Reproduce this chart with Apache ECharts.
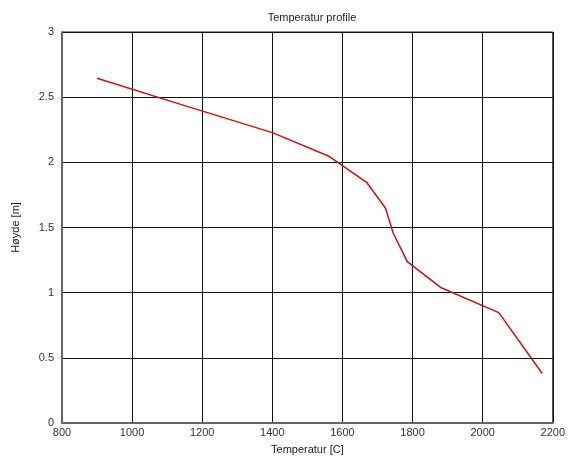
<!DOCTYPE html>
<html><head><meta charset="utf-8">
<script src="https://cdn.jsdelivr.net/npm/echarts@6/dist/echarts.min.js"></script>
<style>html,body{margin:0;padding:0;background:#fff}#c{width:568px;height:460px}</style>
</head><body><div id="c"></div>
<script>
var temperature = [900, 1150, 1400, 1560, 1669, 1723, 1745, 1785, 1880, 2046, 2170];
var height = [2.645, 2.435, 2.228, 2.049, 1.847, 1.648, 1.456, 1.238, 1.04, 0.847, 0.38];
var xTicks = [800, 1000, 1200, 1400, 1600, 1800, 2000, 2200];
var yTicks = [0, 0.5, 1, 1.5, 2, 2.5, 3];
var data = temperature.map(function(t, i){ return [t, height[i]]; });
var chart = echarts.init(document.getElementById('c'));
var font = 'Liberation Sans, Arial, sans-serif';
chart.setOption({
  animation: false,
  title: { text: 'Temperatur profile', left: 307, top: 7, textAlign: 'center',
    textStyle: { fontFamily: font, fontSize: 11, fontWeight: 'normal', color: '#222' } },
  grid: { left: 62, right: 13, top: 32, bottom: 37, show: true, borderColor: '#222', borderWidth: 1 },
  xAxis: { type: 'value', min: xTicks[0], max: xTicks[xTicks.length-1], interval: 200,
    name: 'Temperatur [C]', nameLocation: 'middle', nameGap: 21,
    nameTextStyle: { fontFamily: font, fontSize: 11, color: '#222' },
    axisLine: { show: true, onZero: false, lineStyle: { color: '#666', width: 2 } },
    axisTick: { show: false },
    axisLabel: { fontFamily: font, fontSize: 11, color: '#333', margin: 4,
      formatter: function(v){ return String(v); } },
    splitLine: { show: true, lineStyle: { color: '#111', width: 1 } } },
  yAxis: { type: 'value', min: yTicks[0], max: yTicks[yTicks.length-1], interval: 0.5,
    name: 'Høyde [m]', nameLocation: 'middle', nameGap: 41, nameRotate: 90,
    nameTextStyle: { fontFamily: font, fontSize: 11, color: '#222' },
    axisLine: { show: true, onZero: false, lineStyle: { color: '#666', width: 2 } },
    axisTick: { show: false },
    axisLabel: { fontFamily: font, fontSize: 11, color: '#333', margin: 8, verticalAlign: 'middle', padding: [0,0,3,0] },
    splitLine: { show: true, lineStyle: { color: '#111', width: 1 } } },
  series: [{ type: 'line', data: data, symbol: 'none', lineStyle: { color: '#cc1111', width: 1.5 } }]
});
</script></body></html>
